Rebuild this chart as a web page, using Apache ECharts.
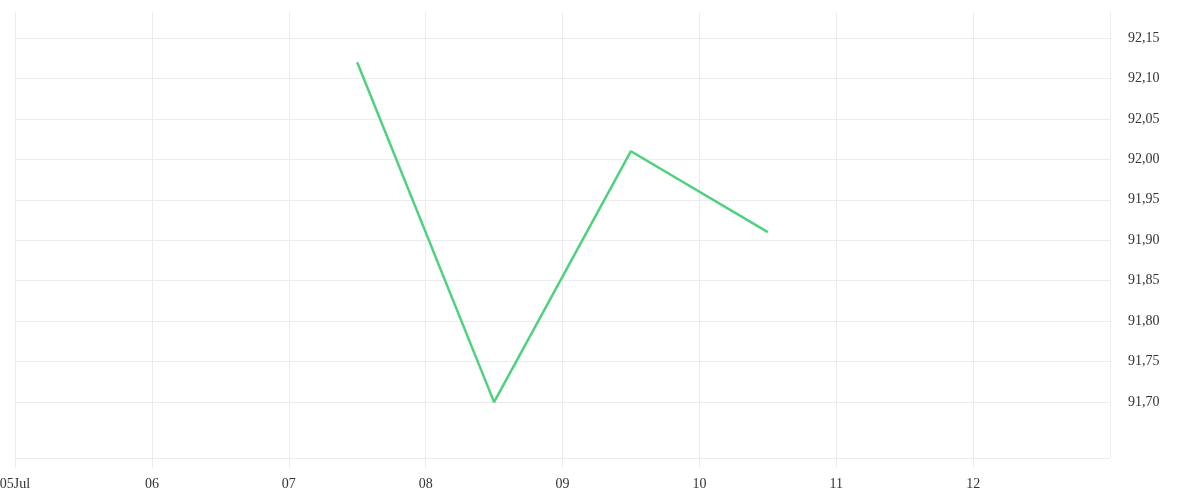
<!DOCTYPE html>
<html>
<head>
<meta charset="utf-8">
<script src="https://cdn.jsdelivr.net/npm/echarts@6/dist/echarts.min.js"></script>
<style>html,body{margin:0;padding:0;background:#fff}#c{width:1200px;height:500px}</style>
</head>
<body>
<div id="c"></div>
<script>
const dates = ['2024-07-07 12:00', '2024-07-08 12:00', '2024-07-09 12:00', '2024-07-10 12:00'];
const values = [92.12, 91.70, 92.01, 91.91];
const xStart = '2024-07-05 00:00';
const xEnd = '2024-07-13 00:00';
const yMin = 91.631;
const yMax = 92.182;
const yFirstLabel = 91.70;

const DAY = 86400000;
const chart = echarts.init(document.getElementById('c'));
const gridColor = '#ececec';
const font = 'Liberation Serif';
// first drawn horizontal split line (91,65) is not shown in the reference
const splitColors = ['rgba(0,0,0,0)'].concat(new Array(20).fill(gridColor));
chart.setOption({
  animation: false,
  grid: { left: 15, right: 90, top: 12, bottom: 42, containLabel: false, outerBoundsMode: 'none' },
  xAxis: {
    type: 'time',
    min: new Date(xStart).getTime(),
    max: new Date(xEnd).getTime(),
    minInterval: DAY,
    maxInterval: DAY,
    splitNumber: 8,
    axisLine: { show: true, lineStyle: { color: gridColor, width: 1 } },
    axisTick: { show: true, length: 10, lineStyle: { color: gridColor } },
    splitLine: { show: true, lineStyle: { color: gridColor, width: 1 } },
    axisLabel: {
      color: '#333', fontFamily: font, fontSize: 14, margin: 19,
      showMaxLabel: false, showMinLabel: true, hideOverlap: false,
      formatter: function (v) {
        const d = new Date(v);
        const dd = String(d.getDate()).padStart(2, '0');
        return d.getDate() === 5 ? dd + 'Jul' : dd;
      }
    }
  },
  yAxis: {
    type: 'value',
    position: 'right',
    min: yMin,
    max: yMax,
    splitNumber: 10,
    axisLine: { show: false },
    axisTick: { show: false },
    splitLine: { show: true, showMinLine: false, showMaxLine: false, lineStyle: { color: splitColors, width: 1 } },
    axisLabel: {
      color: '#333', fontFamily: font, fontSize: 14, margin: 18,
      padding: [4, 0, 0, 0],
      showMinLabel: false, showMaxLabel: false,
      formatter: function (v) {
        if (v < yFirstLabel - 0.001) return '';
        return v.toFixed(2).replace('.', ',');
      }
    }
  },
  series: [{
    type: 'line',
    data: dates.map((d, i) => [new Date(d).getTime(), values[i]]),
    showSymbol: false,
    symbol: 'none',
    lineStyle: { color: '#4fd17f', width: 2.5 },
    itemStyle: { color: '#4fd17f' }
  }]
});
</script>
</body>
</html>
